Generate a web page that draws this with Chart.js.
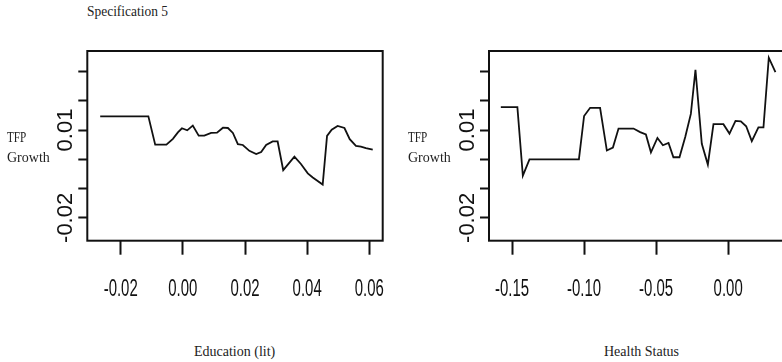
<!DOCTYPE html>
<html>
<head>
<meta charset="utf-8">
<script src="https://cdn.jsdelivr.net/npm/chart.js@4.4.1/dist/chart.umd.min.js"></script>
<style>
  body { margin: 0; width: 782px; height: 362px; overflow: hidden; background: #fff; position: relative; }
  .txt { position: absolute; font-family: 'Liberation Serif', 'Times New Roman', serif; font-size: 14px; line-height: 20px; color: #222; white-space: nowrap; transform-origin: 0 0; }
  .wrap { position: absolute; top: 0; height: 300px; }
</style>
</head>
<body>
<div class="txt" style="left:87px;top:2px;transform:scaleX(0.96)">Specification 5</div>

<div class="wrap" style="left:0;width:400px"><canvas id="eduChart"></canvas></div>
<div class="wrap" style="left:400px;width:393px"><canvas id="healthChart"></canvas></div>

<div class="txt" style="left:7px;top:128px;transform:scaleX(0.8)">TFP</div>
<div class="txt" style="left:7px;top:148px">Growth</div>
<div class="txt" style="left:408px;top:128px;transform:scaleX(0.8)">TFP</div>
<div class="txt" style="left:408px;top:148px">Growth</div>

<div class="txt" style="left:194px;top:342px">Education (lit)</div>
<div class="txt" style="left:604px;top:342px">Health Status</div>

<script>
// Education (lit) panel
const eduX = [-0.0266, -0.0111, -0.0089, -0.0053, -0.0032, -0.0016, -0.0003, 0.0014, 0.0032, 0.0051,
              0.0069, 0.0091, 0.0110, 0.0129, 0.0145, 0.0161, 0.0177, 0.0193, 0.0214, 0.0236,
              0.0252, 0.0268, 0.0289, 0.0305, 0.0323, 0.0359, 0.0380, 0.0402, 0.0418, 0.0450,
              0.0464, 0.0479, 0.0498, 0.0520, 0.0537, 0.0557, 0.0573, 0.0589, 0.0611];
const eduY = [0.0147, 0.0147, 0.0050, 0.0050, 0.0070, 0.0092, 0.0106, 0.0099, 0.0115, 0.0081,
              0.0081, 0.0090, 0.0091, 0.0108, 0.0107, 0.0090, 0.0052, 0.0049, 0.0029, 0.0018,
              0.0025, 0.0049, 0.0061, 0.0061, -0.0037, 0.0009, -0.0016, -0.0048, -0.0062, -0.0086,
              0.0080, 0.0101, 0.0114, 0.0107, 0.0069, 0.0046, 0.0043, 0.0038, 0.0033];
const eduTicks = [-0.02, 0.00, 0.02, 0.04, 0.06];

// Health Status panel
const healthX = [-0.1578, -0.1463, -0.1425, -0.1379, -0.1036, -0.1000, -0.0958, -0.0889, -0.0842, -0.0800,
                 -0.0761, -0.0657, -0.0611, -0.0571, -0.0536, -0.0491, -0.0453, -0.0414, -0.0380, -0.0338,
                 -0.0298, -0.0259, -0.0227, -0.0183, -0.0141, -0.0102, -0.0033, 0.0009, 0.0051, 0.0088,
                 0.0125, 0.0164, 0.0210, 0.0245, 0.0282, 0.0328];
const healthY = [0.0178, 0.0178, -0.0056, 0.0000, 0.0000, 0.0148, 0.0176, 0.0176, 0.0030, 0.0040,
                 0.0105, 0.0105, 0.0093, 0.0085, 0.0024, 0.0073, 0.0048, 0.0056, 0.0007, 0.0007,
                 0.0076, 0.0155, 0.0306, 0.0053, -0.0018, 0.0120, 0.0120, 0.0088, 0.0131, 0.0130,
                 0.0113, 0.0062, 0.0109, 0.0109, 0.0347, 0.0298];
const healthTicks = [-0.15, -0.10, -0.05, 0.00];

// shared y axis (TFP Growth)
const yTicks = [-0.02, -0.01, 0.00, 0.01, 0.02, 0.03];
const yLabelled = [-0.02, 0.01];

// draws the frame round the plot area
const boxPlugin = {
    id: 'box',
    afterDraw(chart) {
        const a = chart.chartArea;
        const ctx = chart.ctx;
        ctx.save();
        ctx.strokeStyle = '#111';
        ctx.lineWidth = 2;
        ctx.strokeRect(a.left, a.top, a.right - a.left, a.bottom - a.top);
        ctx.restore();
    }
};

// squeeze the x tick labels sideways, like the narrow font of the original
const narrowTicks = {
    id: 'narrowTicks',
    beforeDraw(chart) {
        const ctx = chart.ctx;
        chart.scales.x.getLabelItems(chart.chartArea).forEach(item => {
            ctx.save();
            ctx.font = item.font.string;
            item.options.maxWidth = ctx.measureText(item.label).width * 0.65;
            ctx.restore();
        });
    }
};

function makeChart(id, xs, ys, xTicks, xMin, xMax, yWidth, padRight) {
    const points = xs.map((x, i) => ({ x: x, y: ys[i] }));
    return new Chart(document.getElementById(id), {
        type: 'line',
        data: {
            datasets: [{
                data: points,
                borderColor: '#111',
                borderWidth: 1.8,
                pointRadius: 0,
                tension: 0,
                fill: false
            }]
        },
        options: {
            responsive: true,
            maintainAspectRatio: false,
            animation: false,
            layout: { padding: { top: 51, right: padRight, left: 0, bottom: 0 } },
            plugins: { legend: { display: false }, tooltip: { enabled: false } },
            scales: {
                x: {
                    type: 'linear',
                    min: xMin,
                    max: xMax,
                    afterBuildTicks: s => { s.ticks = xTicks.map(v => ({ value: v })); },
                    afterFit: s => { s.height = 59.3; s.paddingLeft = 0; s.paddingRight = 0; },
                    border: { display: false },
                    grid: { drawOnChartArea: false, drawTicks: true, tickLength: 14, tickWidth: 2, tickColor: '#111' },
                    ticks: {
                        autoSkip: false,
                        maxRotation: 0,
                        padding: 21,
                        color: '#111',
                        font: { family: "'Liberation Sans', Arial, sans-serif", size: 23 },
                        callback: v => v.toFixed(2)
                    }
                },
                y: {
                    type: 'linear',
                    min: -0.0278,
                    max: 0.0370,
                    afterBuildTicks: s => { s.ticks = yTicks.map(v => ({ value: v })); },
                    afterFit: s => { s.width = yWidth; s.paddingTop = 0; s.paddingBottom = 0; },
                    border: { display: false },
                    grid: { drawOnChartArea: false, drawTicks: true, tickLength: 9, tickWidth: 2, tickColor: '#111' },
                    ticks: {
                        autoSkip: false,
                        minRotation: 90,
                        maxRotation: 90,
                        crossAlign: 'center',
                        padding: -13,
                        color: '#111',
                        font: { family: "'Liberation Sans', Arial, sans-serif", size: 22 },
                        callback: v => yLabelled.some(l => Math.abs(l - v) < 1e-9) ? String(v) : ''
                    }
                }
            }
        },
        plugins: [boxPlugin, narrowTicks]
    });
}

makeChart('eduChart', eduX, eduY, eduTicks, -0.03075, 0.06431, 87.3, 17.3);
makeChart('healthChart', healthX, healthY, healthTicks, -0.166, 0.045, 89, 0);
</script>
</body>
</html>
